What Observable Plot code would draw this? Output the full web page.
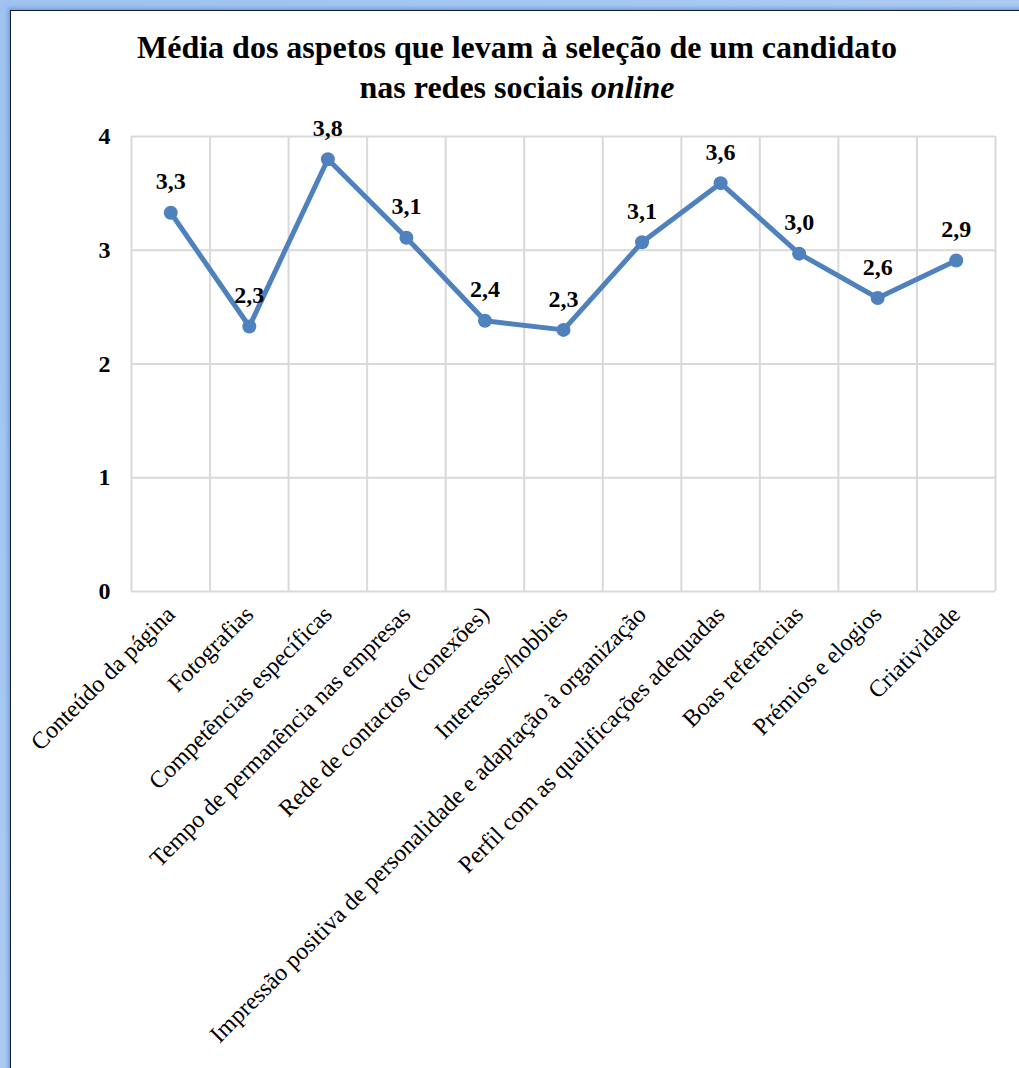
<!DOCTYPE html>
<html><head><meta charset="utf-8">
<script src="https://cdn.jsdelivr.net/npm/d3@7"></script>
<script src="https://cdn.jsdelivr.net/npm/@observablehq/plot@0.6"></script>
<style>
body{margin:0;width:1019px;height:1068px;overflow:hidden;background:#fff;color:#000;font-family:"Liberation Serif","Times New Roman",serif;}
#outer{position:absolute;left:0;top:0;width:1019px;height:1068px;background:linear-gradient(135deg,#9fc2ef,#b9d4f5);}
#inner{position:absolute;left:10px;top:10px;width:1020px;height:1070px;background:#fff;border:1.5px solid #1a1a1a;box-shadow:-2px -2px 4px #6f9fe0;}
#title{position:absolute;left:0;width:1034px;top:27px;text-align:center;font-weight:bold;font-size:32px;line-height:40px;font-family:"Liberation Serif","Times New Roman",serif;}
#chart{position:absolute;left:0;top:110px;}
</style>
</head><body>
<div id="outer"></div>
<div id="inner"></div>
<div id="title">Média dos aspetos que levam à seleção de um candidato<br>nas redes sociais <i>online</i></div>
<div id="chart"></div>
<script>
const categories = [
  "Conteúdo da página",
  "Fotografias",
  "Competências específicas",
  "Tempo de permanência nas empresas",
  "Rede de contactos (conexões)",
  "Interesses/hobbies",
  "Impressão positiva de personalidade e adaptação à organização",
  "Perfil com as qualificações adequadas",
  "Boas referências",
  "Prémios e elogios",
  "Criatividade"
];
const values = [3.33, 2.33, 3.80, 3.11, 2.38, 2.30, 3.07, 3.59, 2.97, 2.58, 2.91];
const yTicks = [0, 1, 2, 3, 4];

const data = categories.map((c, i) => ({i, c, v: values[i]}));
const bounds = d3.range(categories.length + 1).map(i => i - 0.5);
const fmt = v => d3.format(".1f")(v).replace(".", ",");
const serif = '"Liberation Serif","Times New Roman",serif';

const chart = Plot.plot({
  width: 1019,
  height: 958,
  marginLeft: 131,
  marginRight: 24,
  marginTop: 26,
  marginBottom: 477,
  style: {fontFamily: serif, background: "transparent", color: "#000", overflow: "visible"},
  x: {domain: [-0.5, categories.length - 0.5], axis: null},
  y: {domain: [0, 4], axis: null},
  marks: [
    Plot.ruleY(yTicks, {stroke: "#d9d9d9", strokeWidth: 2}),
    Plot.ruleX(bounds, {stroke: "#d9d9d9", strokeWidth: 2}),
    Plot.axisY({ticks: yTicks, tickSize: 0, tickPadding: 21, tickFormat: d => String(d), fontSize: 24, fontWeight: "bold", label: null}),
    Plot.axisX({ticks: d3.range(categories.length), tickFormat: i => categories[i], tickSize: 0, tickPadding: 19, tickRotate: -45, fontSize: 24, label: null}),
    Plot.line(data, {x: "i", y: "v", stroke: "#4f81bd", strokeWidth: 5}),
    Plot.dot(data, {x: "i", y: "v", r: 7, fill: "#4f81bd"}),
    Plot.text(data, {x: "i", y: "v", text: d => fmt(d.v), dy: -31, fontSize: 24, fontWeight: "bold", fill: "#000"})
  ]
});
document.getElementById("chart").appendChild(chart);
</script>
</body></html>
